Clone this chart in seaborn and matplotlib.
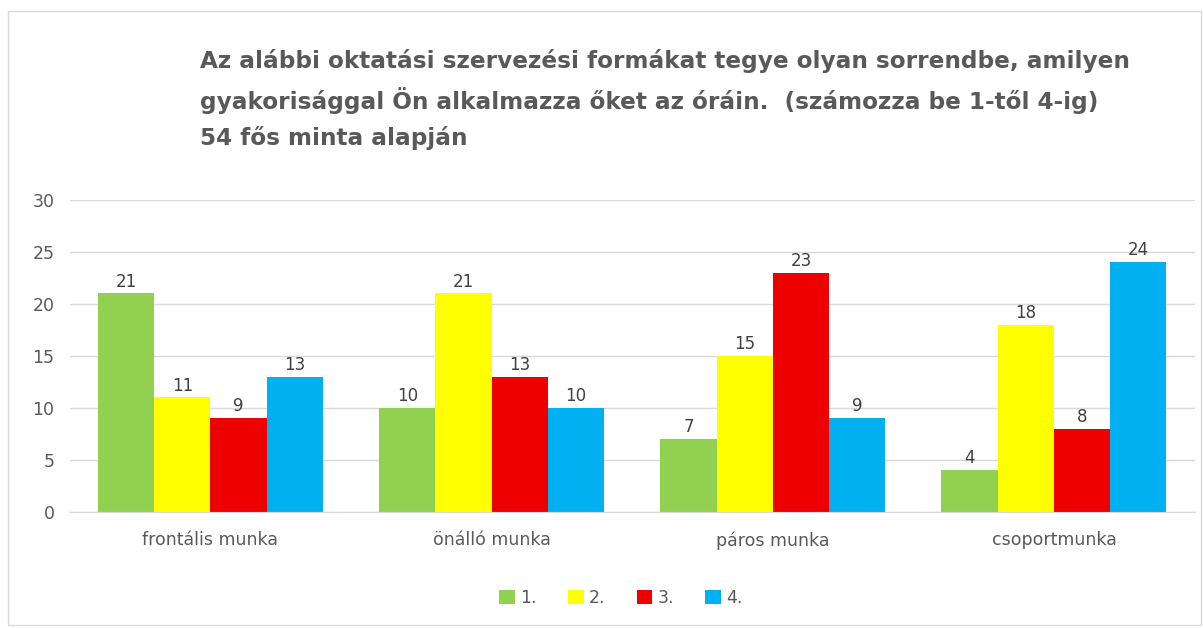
import matplotlib
matplotlib.use("Agg")
import matplotlib.pyplot as plt
import seaborn as sns
import pandas as pd
from matplotlib.patches import Rectangle

categories = ["frontális munka", "önálló munka", "páros munka", "csoportmunka"]
series = ["1.", "2.", "3.", "4."]
v1 = [21, 10, 7, 4]
v2 = [11, 21, 15, 18]
v3 = [9, 13, 23, 8]
v4 = [13, 10, 9, 24]
colors = ["#92D050", "#FFFF00", "#EE0000", "#00B0F0"]
title = ("Az alábbi oktatási szervezési formákat tegye olyan sorrendbe, amilyen\n"
         "gyakorisággal Ön alkalmazza őket az óráin.  (számozza be 1-től 4-ig)\n"
         "54 fős minta alapján")

rows = []
for s, vals in zip(series, [v1, v2, v3, v4]):
    for c, v in zip(categories, vals):
        rows.append({"cat": c, "ser": s, "val": v})
df = pd.DataFrame(rows)

sns.set_style("white")
plt.rcParams['font.family'] = ['DejaVu Sans']
fig = plt.figure(figsize=(12.03, 6.28), dpi=100)
ax = fig.add_axes([0.058, 0.185, 0.935, 0.497])
sns.barplot(data=df, x="cat", y="val", hue="ser", palette=colors, order=categories,
            hue_order=series, width=0.8, gap=0, ax=ax, saturation=1, edgecolor="none")
for cont in ax.containers:
    ax.bar_label(cont, fontsize=12, color="#404040", padding=2)
ax.set_ylim(0, 30)
ax.set_yticks(range(0, 31, 5))
ax.yaxis.grid(True, color="#D9D9D9", linewidth=1)
ax.set_axisbelow(True)
for sp in ["top", "right", "left"]:
    ax.spines[sp].set_visible(False)
ax.spines["bottom"].set_color("#D9D9D9")
ax.tick_params(axis="both", colors="#595959", labelsize=12.5, length=0)
ax.tick_params(axis="y", pad=11)
ax.tick_params(axis="x", pad=14)
ax.set_xlabel("")
ax.set_ylabel("")
ax.set_xlim(-0.5, 3.5)
leg = ax.legend(loc="center", bbox_to_anchor=(0.49, -0.276), ncol=4, frameon=False,
                fontsize=12.5, handlelength=0.9, handleheight=0.9, columnspacing=1.8,
                handletextpad=0.3)
for t in leg.get_texts():
    t.set_color("#595959")
fig.text(200/1203, 1-49/628, title, fontsize=16.7, fontweight="bold", color="#595959",
         va="top", ha="left", linespacing=1.65)
fig.patches.append(Rectangle((8/1203, 0.005), 1-10/1203, 1-14/628, transform=fig.transFigure,
                             fill=False, edgecolor="#D9D9D9", linewidth=1))
fig.savefig("out.png", dpi=100)
